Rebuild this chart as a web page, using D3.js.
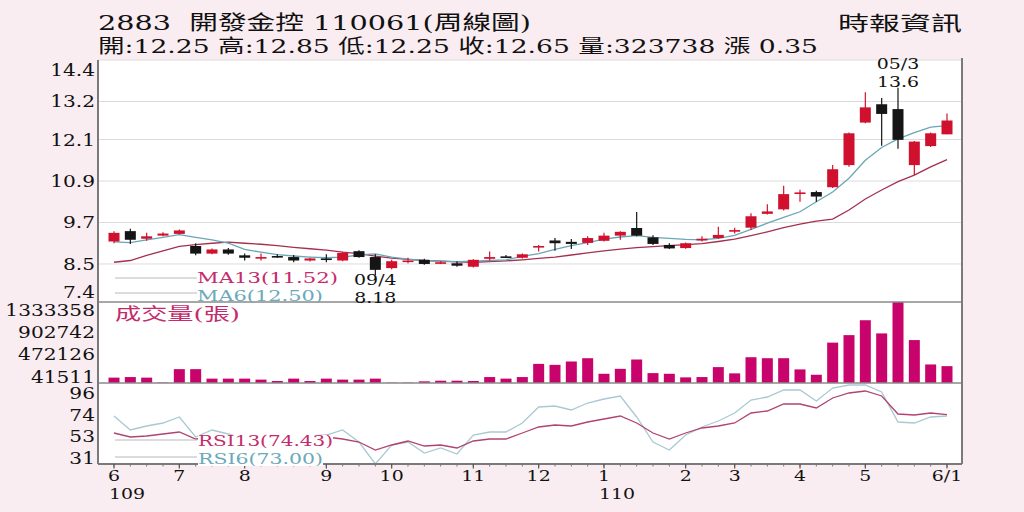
<!DOCTYPE html>
<html>
<head>
<meta charset="utf-8">
<script src="https://cdn.jsdelivr.net/npm/d3@7"></script>
<style>
  body { margin: 0; background: #f9edf1; }
  svg { display: block; font-family: "DejaVu Serif", "Liberation Serif", "Noto Sans CJK TC", serif; }
</style>
</head>
<body>
<div id="chart"></div>
<script>
// weekly candles, 109/6 .. 110/6/1
var open  = [9.15,9.45,9.23,9.32,9.37,9.02,8.80,8.92,8.75,8.67,8.73,8.70,8.60,8.66,8.60,8.87,8.70,8.38,8.58,8.62,8.52,8.52,8.42,8.65,8.72,8.68,
             8.98,9.18,9.14,9.11,9.17,9.32,9.54,9.27,9.05,8.96,9.18,9.25,9.45,9.55,9.95,10.08,10.54,10.58,10.72,11.36,12.59,13.12,12.98,11.36,11.91,12.25];
var high  = [9.45,9.52,9.40,9.42,9.50,9.10,8.95,8.96,8.80,8.80,8.78,8.76,8.68,8.78,8.85,8.90,8.78,8.62,8.68,8.65,8.58,8.58,8.64,8.86,8.76,8.80,
             9.05,9.25,9.22,9.30,9.40,9.45,10.00,9.33,9.10,9.12,9.30,9.58,9.55,9.97,10.23,10.76,10.65,10.62,11.36,12.30,13.47,13.30,13.60,12.06,12.30,12.85];
var low   = [9.10,9.08,9.17,9.30,9.35,8.75,8.78,8.77,8.60,8.60,8.68,8.55,8.57,8.55,8.58,8.68,8.18,8.35,8.52,8.48,8.50,8.42,8.40,8.60,8.67,8.66,
             8.86,8.88,8.93,9.05,9.15,9.20,9.30,9.05,8.93,8.94,9.15,9.22,9.38,9.48,9.93,10.05,10.30,10.30,10.70,11.31,12.57,11.92,11.83,11.07,11.88,12.25];
var close = [9.40,9.20,9.30,9.38,9.47,8.80,8.92,8.80,8.68,8.70,8.72,8.60,8.66,8.63,8.82,8.70,8.33,8.58,8.60,8.50,8.55,8.45,8.62,8.70,8.70,8.78,
             9.02,9.10,9.08,9.25,9.32,9.43,9.32,9.08,8.95,9.10,9.23,9.34,9.48,9.88,10.02,10.52,10.57,10.45,11.24,12.28,13.03,12.84,12.09,12.04,12.28,12.65];
var volume = [103000,114000,103000,8000,266000,266000,84000,84000,84000,65000,38000,84000,38000,84000,65000,65000,84000,6000,6000,32000,44000,44000,38000,114000,84000,114000,
              367000,348000,413000,476000,177000,272000,451000,190000,177000,108000,114000,305000,185000,495000,476000,476000,261000,158000,775000,919000,1205000,952000,1555000,824000,356000,323738];
var ma6  = [9.14,9.12,9.20,9.27,9.35,9.27,9.20,9.10,8.92,8.84,8.77,8.73,8.70,8.68,8.70,8.76,8.79,8.70,8.64,8.60,8.58,8.57,8.58,8.60,8.62,8.72,
            8.80,8.92,9.03,9.12,9.22,9.28,9.32,9.27,9.24,9.21,9.20,9.24,9.33,9.50,9.68,9.85,10.01,10.30,10.58,10.98,11.50,11.87,12.12,12.30,12.46,12.50];
var ma13 = [8.55,8.60,8.75,8.88,9.01,9.06,9.10,9.13,9.10,9.07,9.03,8.98,8.94,8.90,8.84,8.80,8.73,8.67,8.63,8.60,8.58,8.56,8.55,8.57,8.59,8.62,
            8.66,8.70,8.76,8.82,8.88,8.93,8.97,9.00,9.03,9.06,9.09,9.15,9.22,9.32,9.43,9.55,9.65,9.74,9.80,10.06,10.38,10.64,10.88,11.07,11.31,11.52];
var rsi6  = [73,59,63,66,72,52,59,55,50,52,49,50,53,54,59,47,25,44,47,36,41,35,54,57,57,66,
             82,83,79,86,90,93,72,47,39,54,62,68,76,89,92,99,99,88,101,104,104,97,67,66,72,73];
var rsi13 = [56,52,53,55,57,50,51,51,50,51,49,50,51,52,50,47,39,44,48,43,44,41,48,50,50,56,
             62,64,63,67,70,73,66,56,50,56,61,63,66,76,78,85,85,81,91,96,98,93,75,74,76,74.43];

var priceTicks = [14.4, 13.2, 12.1, 10.9, 9.7, 8.5, 7.4];
var volTicks = [1333358, 902742, 472126, 41511];
var rsiTicks = [96, 74, 53, 31];
var monthWeeks = [0, 4, 8, 13, 17, 22, 26, 30, 35, 38, 42, 46, 51];
var monthLabels = ["6", "7", "8", "9", "10", "11", "12", "1", "2", "3", "4", "5", "6/1"];
var yearWeeks = [0, 30];
var yearLabels = ["109", "110"];

var W = 1024, H = 512;
var L = 98, R = 962;
var pTop = 60, pBot = 302, vBot = 383, rBot = 464;
var SX = 1.22;

var RED = "#d0112e", BLACK = "#151515", VOL = "#c8046c";
var MA13C = "#a3304f", MA6C = "#69a6b6", RSI13C = "#b04470", RSI6C = "#a9c9d2";
var PINK_TXT = "#c42b6c", TEAL_TXT = "#6aa9ba";

var svg = d3.select("#chart").append("svg").attr("width", W).attr("height", H);
svg.append("rect").attr("width", W).attr("height", H).attr("fill", "#f9edf1");
svg.append("rect").attr("x", L).attr("y", pTop).attr("width", R - L).attr("height", rBot - pTop).attr("fill", "#fff");

var n = close.length;
var x = d3.scaleLinear().domain([0, n - 1]).range([114, 947]);
var yP = d3.scaleLinear().domain([7.4, 14.4]).range([pBot, pTop]);
var yV = d3.scaleLinear().domain([0, 1555000]).range([vBot, pBot]);
var yR = d3.scaleLinear().domain([25, 105]).range([rBot, vBot + 1]);

// price grid
svg.selectAll("line.grid").data(priceTicks.slice(0, 6)).enter().append("line")
  .attr("x1", L).attr("x2", R)
  .attr("y1", function(d) { return yP(d); }).attr("y2", function(d) { return yP(d); })
  .attr("stroke", "#dcdcdc").attr("stroke-width", 1);

// moving averages
var lineP = function(arr) {
  return d3.line().x(function(d, i) { return x(i); }).y(function(d) { return yP(d); })(arr);
};
svg.append("path").attr("d", lineP(ma13)).attr("fill", "none").attr("stroke", MA13C).attr("stroke-width", 1.3);
svg.append("path").attr("d", lineP(ma6)).attr("fill", "none").attr("stroke", MA6C).attr("stroke-width", 1.3);

// candles
var idx = d3.range(n);
var cw = 11;
function col(i) { return close[i] >= open[i] ? RED : BLACK; }
svg.selectAll("line.wick").data(idx).enter().append("line")
  .attr("x1", function(i) { return x(i); }).attr("x2", function(i) { return x(i); })
  .attr("y1", function(i) { return yP(high[i]); }).attr("y2", function(i) { return yP(low[i]); })
  .attr("stroke", function(i) { return col(i); }).attr("stroke-width", 1.2);
svg.selectAll("rect.body").data(idx).enter().append("rect")
  .attr("x", function(i) { return x(i) - cw / 2; })
  .attr("y", function(i) { return yP(Math.max(open[i], close[i])); })
  .attr("width", cw)
  .attr("height", function(i) { return Math.max(1.6, Math.abs(yP(open[i]) - yP(close[i]))); })
  .attr("fill", function(i) { return col(i); });

// volume
svg.selectAll("rect.vol").data(idx).enter().append("rect")
  .attr("x", function(i) { return x(i) - cw / 2; })
  .attr("y", function(i) { return yV(volume[i]); })
  .attr("width", cw)
  .attr("height", function(i) { return vBot - yV(volume[i]); })
  .attr("fill", VOL);

// rsi
var lineR = function(arr) {
  return d3.line().x(function(d, i) { return x(i); }).y(function(d) { return yR(d); })(arr);
};
svg.append("path").attr("d", lineR(rsi6)).attr("fill", "none").attr("stroke", RSI6C).attr("stroke-width", 1.3);
svg.append("path").attr("d", lineR(rsi13)).attr("fill", "none").attr("stroke", RSI13C).attr("stroke-width", 1.3);

// frame lines
function hline(y, w, c) {
  svg.append("line").attr("x1", L).attr("x2", R).attr("y1", y).attr("y2", y).attr("stroke", c).attr("stroke-width", w);
}
hline(pBot, 1.5, "#8a8a8a");
hline(vBot, 1.5, "#8a8a8a");
hline(rBot, 2, "#7a7a7a");
svg.append("line").attr("x1", L).attr("x2", L).attr("y1", pTop).attr("y2", rBot).attr("stroke", "#7a7a7a").attr("stroke-width", 2);
svg.append("line").attr("x1", R).attr("x2", R).attr("y1", pTop - 2).attr("y2", rBot).attr("stroke", "#7a7a7a").attr("stroke-width", 2);

// x ticks
svg.selectAll("line.wt").data(idx).enter().append("line")
  .attr("x1", function(i) { return x(i); }).attr("x2", function(i) { return x(i); })
  .attr("y1", rBot).attr("y2", rBot + 2.5).attr("stroke", "#777").attr("stroke-width", 1);
svg.selectAll("line.mt").data(monthWeeks).enter().append("line")
  .attr("x1", function(d) { return x(d); }).attr("x2", function(d) { return x(d); })
  .attr("y1", rBot).attr("y2", rBot + 4.5).attr("stroke", "#555").attr("stroke-width", 1.2);

var texts = [];
// wid: wanted width in px, otherwise natural width * SX
function txt(s, tx, ty, size, color, anchor, wid) {
  var t = svg.append("text").attr("x", tx).attr("y", ty).attr("font-size", size)
    .attr("fill", color || "#111").attr("text-anchor", anchor || "start").text(s);
  texts.push([t, wid]);
  return t;
}

// axis labels
priceTicks.forEach(function(v) {
  txt(v.toFixed(1), 95, Math.max(76, Math.min(298, yP(v) + 6)), 16.5, "#111", "end");
});
volTicks.forEach(function(v) { txt(String(v), 95, yV(v) + 2, 16.5, "#111", "end"); });
rsiTicks.forEach(function(v) { txt(String(v), 95, yR(v) + 6, 16.5, "#111", "end"); });
monthWeeks.forEach(function(w, k) { txt(monthLabels[k], x(w), 481, 15.5, "#111", "middle"); });
yearWeeks.forEach(function(w, k) { txt(yearLabels[k], x(w) - 5, 499, 15.5, "#111", "start"); });

// legends
function legLine(y) {
  svg.append("line").attr("x1", 115).attr("x2", 197).attr("y1", y).attr("y2", y).attr("stroke", "#b8b8b8").attr("stroke-width", 1);
}
legLine(278); legLine(293); legLine(440); legLine(457);
txt("MA13(11.52)", 197, 283, 15.5, PINK_TXT, "start", 141);
txt("MA6(12.50)", 197, 301, 15.5, TEAL_TXT, "start", 126);
txt("成交量(張)", 115, 320, 17, PINK_TXT, "start", 125);
var r13 = txt("RSI13(74.43)", 198, 446, 15.5, PINK_TXT, "start", 135);
var r6 = txt("RSI6(73.00)", 198, 464, 15.5, TEAL_TXT, "start", 125);

// annotations
txt("05/3", x(48), yP(high[48]) - 19, 15.5, "#111", "middle");
txt("13.6", x(48), yP(high[48]) - 1, 15.5, "#111", "middle");
txt("09/4", x(16), yP(low[16]) + 10, 15.5, "#111", "middle");
txt("8.18", x(16), yP(low[16]) + 28, 15.5, "#111", "middle");

// widen glyphs like the source picture
texts.forEach(function(p) {
  var t = p[0], w = p[1] || t.node().getComputedTextLength() * SX;
  t.attr("textLength", w).attr("lengthAdjust", "spacingAndGlyphs");
});

// white backing for the rsi labels
[r13, r6].forEach(function(t) {
  var b = t.node().getBBox();
  svg.insert("rect", function() { return t.node(); })
    .attr("x", b.x).attr("y", b.y + 3).attr("width", b.width).attr("height", b.height - 5).attr("fill", "#fff");
});

// header: line 2 sets the glyph stretch, line 1 is a touch larger
var h2 = svg.append("text").attr("x", 98).attr("y", 53).attr("font-size", 19).style("white-space", "pre")
  .attr("fill", "#111").text("開:12.25 高:12.85 低:12.25 收:12.65 量:323738 漲 0.35");
var k = 720 / h2.node().getComputedTextLength();
h2.attr("textLength", 720).attr("lengthAdjust", "spacingAndGlyphs");
var h1 = svg.append("text").attr("x", 98).attr("y", 30).attr("font-size", 20.5).style("white-space", "pre")
  .attr("fill", "#111").text("2883  開發金控 110061(周線圖)");
h1.attr("textLength", h1.node().getComputedTextLength() * k).attr("lengthAdjust", "spacingAndGlyphs");
svg.append("text").attr("x", 838).attr("y", 31).attr("font-size", 20)
  .attr("textLength", 124).attr("lengthAdjust", "spacingAndGlyphs").attr("fill", "#111")
  .text("時報資訊");
</script>
</body>
</html>
